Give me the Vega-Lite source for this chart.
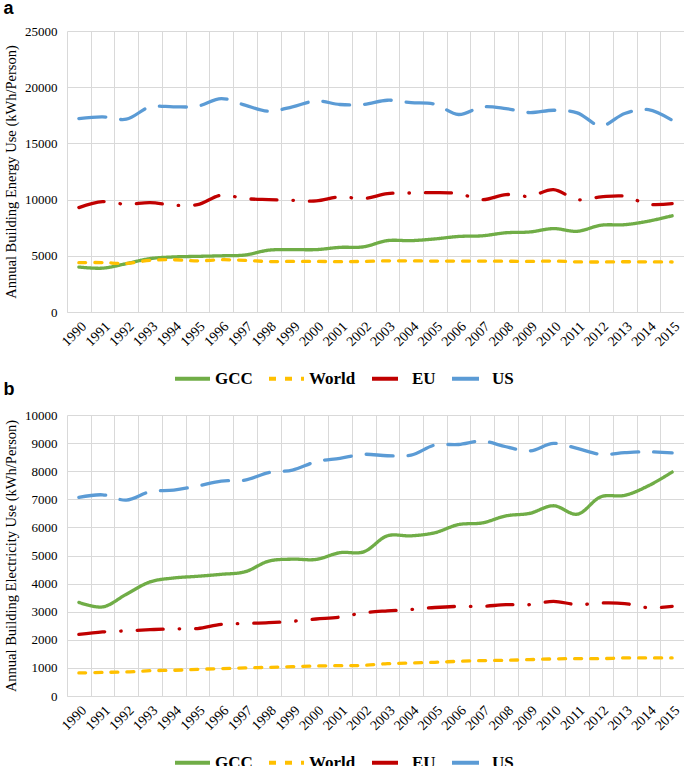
{
  "$schema": "https://vega.github.io/schema/vega-lite/v6.json",
  "padding": {"left": 3, "top": 0, "right": 0, "bottom": 0},
  "background": "white",
  "config": {
    "font": "'Liberation Serif', 'Times New Roman', 'DejaVu Serif', serif",
    "view": {"stroke": null},
    "axis": {"gridColor": "#d9d9d9", "gridWidth": 1, "domainColor": "#d9d9d9", "labelColor": "#000", "titleColor": "#000", "labelFont": "'Liberation Serif', 'Times New Roman', 'DejaVu Serif', serif", "titleFont": "'Liberation Serif', 'Times New Roman', 'DejaVu Serif', serif", "ticks": false},
    "title": {"font": "'Liberation Sans', Arial, sans-serif", "fontSize": 18, "fontWeight": "bold", "anchor": "start", "color": "#000", "frame": "bounds"},
    "legend": {"labelFont": "'Liberation Serif', 'Times New Roman', 'DejaVu Serif', serif", "labelFontSize": 17, "labelFontWeight": "bold", "labelColor": "#000", "symbolType": "stroke", "symbolStrokeWidth": 4, "symbolSize": 1225, "labelOffset": 3, "columnPadding": 8, "direction": "horizontal", "orient": "none", "legendX": 106, "legendY": 328, "title": null},
    "concat": {"spacing": -6}
  },
  "datasets": {
    "energy": [
      {"year": "1990", "series": "GCC", "value": 4000}, {"year": "1991", "series": "GCC", "value": 3900}, {"year": "1992", "series": "GCC", "value": 4300}, {"year": "1993", "series": "GCC", "value": 4750}, {"year": "1994", "series": "GCC", "value": 4900}, {"year": "1995", "series": "GCC", "value": 4950}, {"year": "1996", "series": "GCC", "value": 5000}, {"year": "1997", "series": "GCC", "value": 5070}, {"year": "1998", "series": "GCC", "value": 5500}, {"year": "1999", "series": "GCC", "value": 5550}, {"year": "2000", "series": "GCC", "value": 5550}, {"year": "2001", "series": "GCC", "value": 5750}, {"year": "2002", "series": "GCC", "value": 5800}, {"year": "2003", "series": "GCC", "value": 6350}, {"year": "2004", "series": "GCC", "value": 6350}, {"year": "2005", "series": "GCC", "value": 6500}, {"year": "2006", "series": "GCC", "value": 6720}, {"year": "2007", "series": "GCC", "value": 6780}, {"year": "2008", "series": "GCC", "value": 7050}, {"year": "2009", "series": "GCC", "value": 7120}, {"year": "2010", "series": "GCC", "value": 7420}, {"year": "2011", "series": "GCC", "value": 7180}, {"year": "2012", "series": "GCC", "value": 7720}, {"year": "2013", "series": "GCC", "value": 7770}, {"year": "2014", "series": "GCC", "value": 8080}, {"year": "2015", "series": "GCC", "value": 8560},
      {"year": "1990", "series": "World", "value": 4390}, {"year": "1991", "series": "World", "value": 4400}, {"year": "1992", "series": "World", "value": 4320}, {"year": "1993", "series": "World", "value": 4600}, {"year": "1994", "series": "World", "value": 4650}, {"year": "1995", "series": "World", "value": 4550}, {"year": "1996", "series": "World", "value": 4650}, {"year": "1997", "series": "World", "value": 4600}, {"year": "1998", "series": "World", "value": 4490}, {"year": "1999", "series": "World", "value": 4500}, {"year": "2000", "series": "World", "value": 4500}, {"year": "2001", "series": "World", "value": 4480}, {"year": "2002", "series": "World", "value": 4500}, {"year": "2003", "series": "World", "value": 4550}, {"year": "2004", "series": "World", "value": 4550}, {"year": "2005", "series": "World", "value": 4530}, {"year": "2006", "series": "World", "value": 4530}, {"year": "2007", "series": "World", "value": 4530}, {"year": "2008", "series": "World", "value": 4520}, {"year": "2009", "series": "World", "value": 4500}, {"year": "2010", "series": "World", "value": 4530}, {"year": "2011", "series": "World", "value": 4460}, {"year": "2012", "series": "World", "value": 4450}, {"year": "2013", "series": "World", "value": 4470}, {"year": "2014", "series": "World", "value": 4460}, {"year": "2015", "series": "World", "value": 4450},
      {"year": "1990", "series": "EU", "value": 9290}, {"year": "1991", "series": "EU", "value": 9820}, {"year": "1992", "series": "EU", "value": 9580}, {"year": "1993", "series": "EU", "value": 9730}, {"year": "1994", "series": "EU", "value": 9500}, {"year": "1995", "series": "EU", "value": 9550}, {"year": "1996", "series": "EU", "value": 10390}, {"year": "1997", "series": "EU", "value": 10090}, {"year": "1998", "series": "EU", "value": 10000}, {"year": "1999", "series": "EU", "value": 9940}, {"year": "2000", "series": "EU", "value": 9880}, {"year": "2001", "series": "EU", "value": 10240}, {"year": "2002", "series": "EU", "value": 10090}, {"year": "2003", "series": "EU", "value": 10530}, {"year": "2004", "series": "EU", "value": 10590}, {"year": "2005", "series": "EU", "value": 10620}, {"year": "2006", "series": "EU", "value": 10530}, {"year": "2007", "series": "EU", "value": 10000}, {"year": "2008", "series": "EU", "value": 10450}, {"year": "2009", "series": "EU", "value": 10300}, {"year": "2010", "series": "EU", "value": 10890}, {"year": "2011", "series": "EU", "value": 10000}, {"year": "2012", "series": "EU", "value": 10240}, {"year": "2013", "series": "EU", "value": 10300}, {"year": "2014", "series": "EU", "value": 9580}, {"year": "2015", "series": "EU", "value": 9640},
      {"year": "1990", "series": "US", "value": 17210}, {"year": "1991", "series": "US", "value": 17360}, {"year": "1992", "series": "US", "value": 17150}, {"year": "1993", "series": "US", "value": 18250}, {"year": "1994", "series": "US", "value": 18250}, {"year": "1995", "series": "US", "value": 18310}, {"year": "1996", "series": "US", "value": 18990}, {"year": "1997", "series": "US", "value": 18400}, {"year": "1998", "series": "US", "value": 17860}, {"year": "1999", "series": "US", "value": 18250}, {"year": "2000", "series": "US", "value": 18780}, {"year": "2001", "series": "US", "value": 18460}, {"year": "2002", "series": "US", "value": 18460}, {"year": "2003", "series": "US", "value": 18840}, {"year": "2004", "series": "US", "value": 18630}, {"year": "2005", "series": "US", "value": 18490}, {"year": "2006", "series": "US", "value": 17570}, {"year": "2007", "series": "US", "value": 18250}, {"year": "2008", "series": "US", "value": 18100}, {"year": "2009", "series": "US", "value": 17740}, {"year": "2010", "series": "US", "value": 17950}, {"year": "2011", "series": "US", "value": 17720}, {"year": "2012", "series": "US", "value": 16560}, {"year": "2013", "series": "US", "value": 17660}, {"year": "2014", "series": "US", "value": 18010}, {"year": "2015", "series": "US", "value": 17060}
    ],
    "electricity": [
      {"year": "1990", "series": "GCC", "value": 3330}, {"year": "1991", "series": "GCC", "value": 3170}, {"year": "1992", "series": "GCC", "value": 3620}, {"year": "1993", "series": "GCC", "value": 4060}, {"year": "1994", "series": "GCC", "value": 4200}, {"year": "1995", "series": "GCC", "value": 4260}, {"year": "1996", "series": "GCC", "value": 4330}, {"year": "1997", "series": "GCC", "value": 4420}, {"year": "1998", "series": "GCC", "value": 4800}, {"year": "1999", "series": "GCC", "value": 4870}, {"year": "2000", "series": "GCC", "value": 4860}, {"year": "2001", "series": "GCC", "value": 5100}, {"year": "2002", "series": "GCC", "value": 5130}, {"year": "2003", "series": "GCC", "value": 5700}, {"year": "2004", "series": "GCC", "value": 5700}, {"year": "2005", "series": "GCC", "value": 5810}, {"year": "2006", "series": "GCC", "value": 6100}, {"year": "2007", "series": "GCC", "value": 6160}, {"year": "2008", "series": "GCC", "value": 6410}, {"year": "2009", "series": "GCC", "value": 6500}, {"year": "2010", "series": "GCC", "value": 6770}, {"year": "2011", "series": "GCC", "value": 6470}, {"year": "2012", "series": "GCC", "value": 7090}, {"year": "2013", "series": "GCC", "value": 7140}, {"year": "2014", "series": "GCC", "value": 7480}, {"year": "2015", "series": "GCC", "value": 7970},
      {"year": "1990", "series": "World", "value": 820}, {"year": "1991", "series": "World", "value": 840}, {"year": "1992", "series": "World", "value": 855}, {"year": "1993", "series": "World", "value": 900}, {"year": "1994", "series": "World", "value": 915}, {"year": "1995", "series": "World", "value": 950}, {"year": "1996", "series": "World", "value": 975}, {"year": "1997", "series": "World", "value": 1000}, {"year": "1998", "series": "World", "value": 1020}, {"year": "1999", "series": "World", "value": 1045}, {"year": "2000", "series": "World", "value": 1070}, {"year": "2001", "series": "World", "value": 1080}, {"year": "2002", "series": "World", "value": 1090}, {"year": "2003", "series": "World", "value": 1150}, {"year": "2004", "series": "World", "value": 1175}, {"year": "2005", "series": "World", "value": 1200}, {"year": "2006", "series": "World", "value": 1235}, {"year": "2007", "series": "World", "value": 1260}, {"year": "2008", "series": "World", "value": 1270}, {"year": "2009", "series": "World", "value": 1295}, {"year": "2010", "series": "World", "value": 1320}, {"year": "2011", "series": "World", "value": 1330}, {"year": "2012", "series": "World", "value": 1330}, {"year": "2013", "series": "World", "value": 1355}, {"year": "2014", "series": "World", "value": 1355}, {"year": "2015", "series": "World", "value": 1355},
      {"year": "1990", "series": "EU", "value": 2190}, {"year": "1991", "series": "EU", "value": 2280}, {"year": "1992", "series": "EU", "value": 2320}, {"year": "1993", "series": "EU", "value": 2360}, {"year": "1994", "series": "EU", "value": 2390}, {"year": "1995", "series": "EU", "value": 2400}, {"year": "1996", "series": "EU", "value": 2550}, {"year": "1997", "series": "EU", "value": 2580}, {"year": "1998", "series": "EU", "value": 2610}, {"year": "1999", "series": "EU", "value": 2660}, {"year": "2000", "series": "EU", "value": 2740}, {"year": "2001", "series": "EU", "value": 2810}, {"year": "2002", "series": "EU", "value": 2960}, {"year": "2003", "series": "EU", "value": 3030}, {"year": "2004", "series": "EU", "value": 3080}, {"year": "2005", "series": "EU", "value": 3150}, {"year": "2006", "series": "EU", "value": 3190}, {"year": "2007", "series": "EU", "value": 3190}, {"year": "2008", "series": "EU", "value": 3250}, {"year": "2009", "series": "EU", "value": 3250}, {"year": "2010", "series": "EU", "value": 3370}, {"year": "2011", "series": "EU", "value": 3250}, {"year": "2012", "series": "EU", "value": 3310}, {"year": "2013", "series": "EU", "value": 3290}, {"year": "2014", "series": "EU", "value": 3140}, {"year": "2015", "series": "EU", "value": 3190},
      {"year": "1990", "series": "US", "value": 7070}, {"year": "1991", "series": "US", "value": 7160}, {"year": "1992", "series": "US", "value": 6970}, {"year": "1993", "series": "US", "value": 7270}, {"year": "1994", "series": "US", "value": 7330}, {"year": "1995", "series": "US", "value": 7470}, {"year": "1996", "series": "US", "value": 7650}, {"year": "1997", "series": "US", "value": 7680}, {"year": "1998", "series": "US", "value": 7950}, {"year": "1999", "series": "US", "value": 8040}, {"year": "2000", "series": "US", "value": 8340}, {"year": "2001", "series": "US", "value": 8460}, {"year": "2002", "series": "US", "value": 8600}, {"year": "2003", "series": "US", "value": 8550}, {"year": "2004", "series": "US", "value": 8570}, {"year": "2005", "series": "US", "value": 8930}, {"year": "2006", "series": "US", "value": 8950}, {"year": "2007", "series": "US", "value": 9070}, {"year": "2008", "series": "US", "value": 8870}, {"year": "2009", "series": "US", "value": 8720}, {"year": "2010", "series": "US", "value": 8990}, {"year": "2011", "series": "US", "value": 8810}, {"year": "2012", "series": "US", "value": 8600}, {"year": "2013", "series": "US", "value": 8660}, {"year": "2014", "series": "US", "value": 8690}, {"year": "2015", "series": "US", "value": 8650}
    ]
  },
  "vconcat": [
    {
      "title": {"text": "a", "offset": 7},
      "width": 617,
      "height": 281,
      "data": {"name": "energy"},
      "mark": {"type": "line", "interpolate": "catmull-rom", "strokeWidth": 3.3, "strokeCap": "round"},
      "encoding": {
        "x": {"field": "year", "type": "ordinal", "scale": {"type": "band", "paddingInner": 0, "paddingOuter": 0}, "axis": {"title": null, "labelAngle": -45, "tickBand": "extent", "labelFontSize": 14, "labelPadding": 7, "grid": true}},
        "y": {"field": "value", "type": "quantitative", "scale": {"domain": [0, 25000]}, "axis": {"title": "Annual Building Energy Use (kWh/Person)", "values": [0, 5000, 10000, 15000, 20000, 25000], "format": "d", "labelFontSize": 13, "labelPadding": 10, "titlePadding": 6, "titleFontSize": 14.5, "titleFontWeight": "normal", "domain": false}},
        "color": {"field": "series", "type": "nominal", "scale": {"domain": ["GCC", "World", "EU", "US"], "range": ["#70AD47", "#FFC000", "#C00000", "#5B9BD5"]}},
        "strokeDash": {"field": "series", "type": "nominal", "scale": {"domain": ["GCC", "World", "EU", "US"], "range": [[1, 0], [7, 9], [26, 16, 0.5, 16], [27, 15]]}}
      }
    },
    {
      "title": {"text": "b", "offset": 10},
      "width": 617,
      "height": 281,
      "data": {"name": "electricity"},
      "mark": {"type": "line", "interpolate": "catmull-rom", "strokeWidth": 3.3, "strokeCap": "round"},
      "encoding": {
        "x": {"field": "year", "type": "ordinal", "scale": {"type": "band", "paddingInner": 0, "paddingOuter": 0}, "axis": {"title": null, "labelAngle": -45, "tickBand": "extent", "labelFontSize": 14, "labelPadding": 7, "grid": true}},
        "y": {"field": "value", "type": "quantitative", "scale": {"domain": [0, 10000]}, "axis": {"title": "Annual Building Electricity Use (kWh/Person)", "values": [0, 1000, 2000, 3000, 4000, 5000, 6000, 7000, 8000, 9000, 10000], "format": "d", "labelFontSize": 13, "labelPadding": 10, "titlePadding": 6, "titleFontSize": 14.5, "titleFontWeight": "normal", "domain": false}},
        "color": {"field": "series", "type": "nominal", "scale": {"domain": ["GCC", "World", "EU", "US"], "range": ["#70AD47", "#FFC000", "#C00000", "#5B9BD5"]}},
        "strokeDash": {"field": "series", "type": "nominal", "scale": {"domain": ["GCC", "World", "EU", "US"], "range": [[1, 0], [7, 9], [26, 16, 0.5, 16], [27, 15]]}}
      }
    }
  ],
  "resolve": {"scale": {"color": "independent", "strokeDash": "independent"}, "legend": {"color": "independent", "strokeDash": "independent"}}
}
